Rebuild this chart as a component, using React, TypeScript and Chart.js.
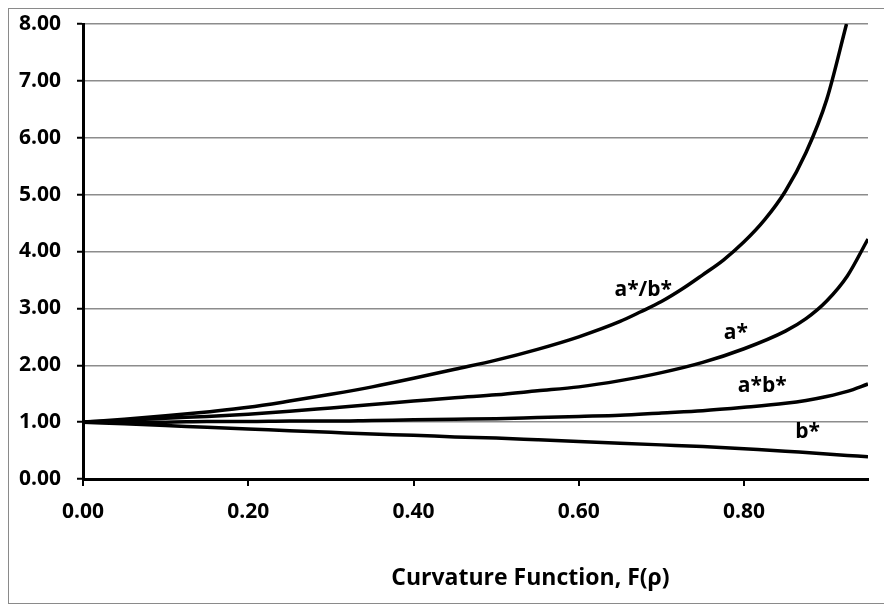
import React, { useEffect, useRef } from 'react';
import { Chart, registerables } from 'chart.js';

Chart.register(...registerables);

// F(rho) grid for a*, a*b*, b*
const fGrid = [0, 0.05, 0.1, 0.15, 0.2, 0.25, 0.3, 0.35, 0.4, 0.45, 0.5, 0.55, 0.6, 0.65, 0.7, 0.75, 0.8, 0.85, 0.875, 0.9, 0.925, 0.95];
const aStar = [1.0, 1.03, 1.07, 1.1, 1.14, 1.19, 1.25, 1.31, 1.37, 1.43, 1.48, 1.55, 1.62, 1.73, 1.87, 2.05, 2.29, 2.6, 2.82, 3.13, 3.57, 4.22];
const abStar = [1.0, 1.0, 1.0, 1.01, 1.01, 1.02, 1.02, 1.03, 1.04, 1.05, 1.06, 1.08, 1.1, 1.12, 1.16, 1.2, 1.26, 1.33, 1.38, 1.45, 1.54, 1.67];
const bStar = [1.0, 0.97, 0.94, 0.91, 0.88, 0.85, 0.82, 0.79, 0.77, 0.74, 0.72, 0.69, 0.66, 0.63, 0.6, 0.57, 0.53, 0.49, 0.465, 0.44, 0.415, 0.39];

// a*/b* ends where it reaches the top of the axis
const fRatio = [0, 0.05, 0.1, 0.15, 0.2, 0.25, 0.3, 0.35, 0.4, 0.45, 0.5, 0.55, 0.6, 0.65, 0.675, 0.7, 0.725, 0.75, 0.775, 0.8, 0.825, 0.85, 0.875, 0.9, 0.924];
const aOverB = [1.0, 1.05, 1.11, 1.18, 1.26, 1.37, 1.49, 1.62, 1.77, 1.93, 2.09, 2.28, 2.5, 2.77, 2.94, 3.12, 3.34, 3.59, 3.85, 4.17, 4.56, 5.06, 5.74, 6.67, 8.0];

// curve labels (anchored in data coordinates)
const curveLabels = ['a*/b*', 'a*', 'a*b*', 'b*'];
const curveLabelF = [0.678, 0.79, 0.822, 0.877];
const curveLabelV = [3.33, 2.56, 1.64, 0.82];

const xTickValues = [0, 0.2, 0.4, 0.6, 0.8];
const xTitle = 'Curvature Function, F(\u03c1)';

const FONT = '"Open Sans", "Noto Sans", sans-serif';

const toPoints = (xs: number[], ys: number[]) => xs.map((x, i) => ({ x, y: ys[i] }));

const annotationPlugin = {
  id: 'annotations',
  afterDatasetsDraw(chart: any) {
    const { ctx, scales, chartArea } = chart;
    const xs = scales.x;
    const ys = scales.y;
    ctx.save();
    ctx.fillStyle = '#000';
    ctx.textAlign = 'center';
    ctx.textBaseline = 'middle';
    ctx.font = `bold 21px ${FONT}`;
    curveLabels.forEach((t, i) => {
      ctx.fillText(t, xs.getPixelForValue(curveLabelF[i]), ys.getPixelForValue(curveLabelV[i]));
    });
    ctx.font = `bold 23px ${FONT}`;
    ctx.fillText(xTitle, chartArea.left + chartArea.width * 0.57, chartArea.bottom + 99);
    ctx.restore();
  },
};

const lineStyle = {
  borderColor: '#000',
  borderWidth: 3.5,
  pointRadius: 0,
  fill: false,
  cubicInterpolationMode: 'monotone' as const,
};

export default function App() {
  const ref = useRef<HTMLCanvasElement | null>(null);

  useEffect(() => {
    if (!ref.current) return;
    const chart = new Chart(ref.current, {
      type: 'line',
      data: {
        datasets: [
          { label: 'a*/b*', data: toPoints(fRatio, aOverB), ...lineStyle },
          { label: 'a*', data: toPoints(fGrid, aStar), ...lineStyle },
          { label: 'a*b*', data: toPoints(fGrid, abStar), ...lineStyle },
          { label: 'b*', data: toPoints(fGrid, bStar), ...lineStyle },
        ],
      },
      options: {
        animation: false,
        responsive: false,
        devicePixelRatio: 1,
        layout: { padding: { top: 15, right: 19, left: 0, bottom: 0 } },
        plugins: { legend: { display: false }, tooltip: { enabled: false }, title: { display: false } },
        scales: {
          x: {
            type: 'linear',
            min: 0,
            max: 0.95,
            afterBuildTicks: (scale: any) => {
              scale.ticks = xTickValues.map((v) => ({ value: v }));
            },
            afterFit: (scale: any) => {
              scale.height = 124;
              scale.paddingLeft = 0;
              scale.paddingRight = 0;
            },
            ticks: {
              callback: (v: any) => Number(v).toFixed(2),
              color: '#000',
              font: { family: FONT, weight: 'bold', size: 21 },
              padding: 13,
              maxRotation: 0,
            },
            grid: { display: true, drawOnChartArea: false, drawTicks: true, tickLength: 7, color: '#000', lineWidth: 2 },
            border: { display: true, color: '#000', width: 3 },
          },
          y: {
            type: 'linear',
            min: 0,
            max: 8,
            afterFit: (scale: any) => {
              scale.width = 74;
              scale.paddingTop = 0;
              scale.paddingBottom = 0;
            },
            ticks: {
              stepSize: 1,
              callback: (v: any) => Number(v).toFixed(2),
              color: '#000',
              font: { family: FONT, weight: 'bold', size: 21 },
              padding: 16,
            },
            grid: { color: '#8c8c8c', lineWidth: 1.5, tickColor: '#000', tickLength: 6, tickWidth: 2 },
            border: { display: true, color: '#000', width: 3 },
          },
        },
      },
      plugins: [annotationPlugin],
    });
    return () => chart.destroy();
  }, []);

  return (
    <div style={{ width: 878, height: 594, border: '1px solid #8a8a8a', background: '#fff' }}>
      <canvas ref={ref} width={878} height={594} style={{ display: 'block' }} />
    </div>
  );
}
